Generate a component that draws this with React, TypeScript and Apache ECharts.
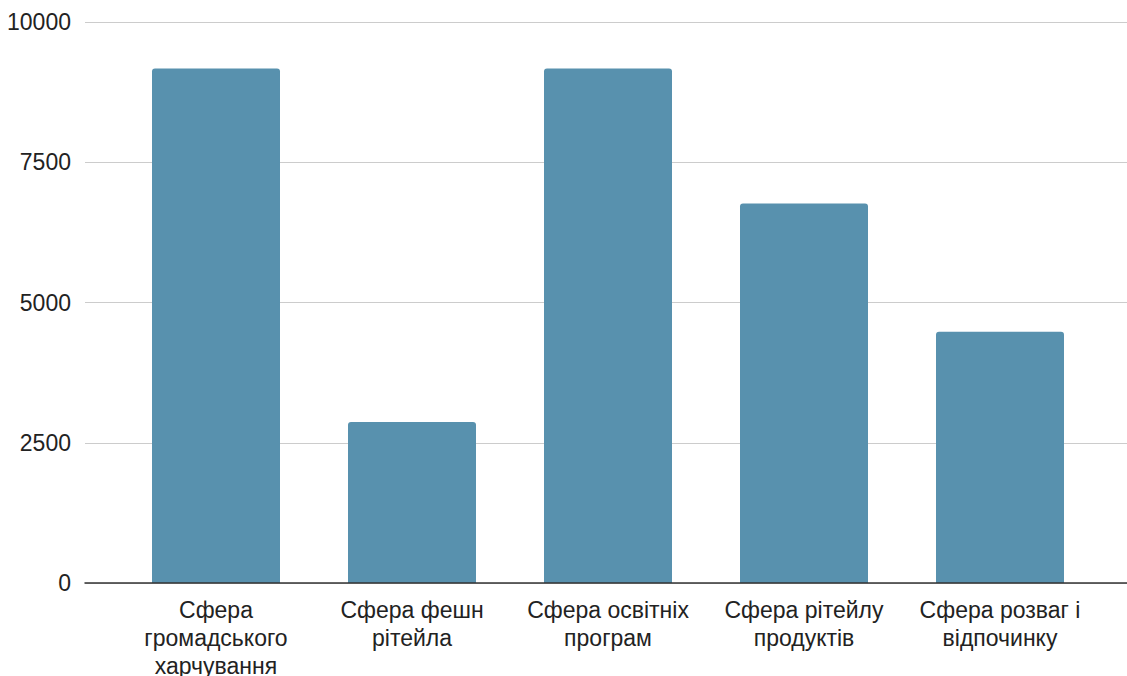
import React, { useEffect, useRef } from "react";
import * as echarts from "echarts";

const categories = [
  "Сфера\nгромадського\nхарчування",
  "Сфера фешн\nрітейла",
  "Сфера освітніх\nпрограм",
  "Сфера рітейлу\nпродуктів",
  "Сфера розваг і\nвідпочинку",
];
const values = [9170, 2870, 9170, 6765, 4480];
const yTicks = [0, 2500, 5000, 7500, 10000];

export default function App() {
  const ref = useRef<HTMLDivElement>(null);
  useEffect(() => {
    if (!ref.current) return;
    const chart = echarts.init(ref.current, null, { renderer: "svg" });
    const font = "Liberation Sans, Arial, sans-serif";
    chart.setOption({
      animation: false,
      backgroundColor: "#ffffff",
      grid: [
        { left: 85, right: 0, top: 22, bottom: 93, containLabel: false, outerBoundsMode: "none" },
        { left: 118, right: 29, top: 22, bottom: 93, containLabel: false, outerBoundsMode: "none" },
      ],
      xAxis: [
        {
          type: "category",
          gridIndex: 0,
          data: [""],
          axisLine: { show: true, lineStyle: { color: "#333333", width: 1.5 } },
          axisTick: { show: false },
          axisLabel: { show: false },
          splitLine: { show: false },
          z: 5,
        },
        {
          type: "category",
          gridIndex: 1,
          data: categories,
          axisLine: { show: false },
          axisTick: { show: false },
          axisLabel: {
            interval: 0,
            color: "#222222",
            fontSize: 23,
            fontFamily: font,
            lineHeight: 28,
            margin: 13,
            align: "center",
          },
        },
      ],
      yAxis: [
        {
          type: "value",
          gridIndex: 0,
          min: 0,
          max: 10000,
          interval: 2500,
          axisLine: { show: false },
          axisTick: { show: false },
          axisLabel: {
            color: "#222222",
            fontSize: 23,
            fontFamily: font,
            margin: 14,
            formatter: (v: number) => (yTicks.includes(v) ? String(v) : ""),
          },
          splitLine: { show: true, lineStyle: { color: "#cccccc", width: 1 } },
        },
        {
          type: "value",
          gridIndex: 1,
          min: 0,
          max: 10000,
          interval: 2500,
          axisLine: { show: false },
          axisTick: { show: false },
          axisLabel: { show: false },
          splitLine: { show: false },
        },
      ],
      series: [
        {
          type: "bar",
          xAxisIndex: 1,
          yAxisIndex: 1,
          data: values,
          barWidth: 128,
          itemStyle: { color: "#5891ae", borderRadius: [3, 3, 0, 0] },
        },
      ],
    });
    return () => chart.dispose();
  }, []);
  return <div ref={ref} style={{ width: 1127, height: 676, position: "fixed", left: 0, top: 0 }} />;
}
